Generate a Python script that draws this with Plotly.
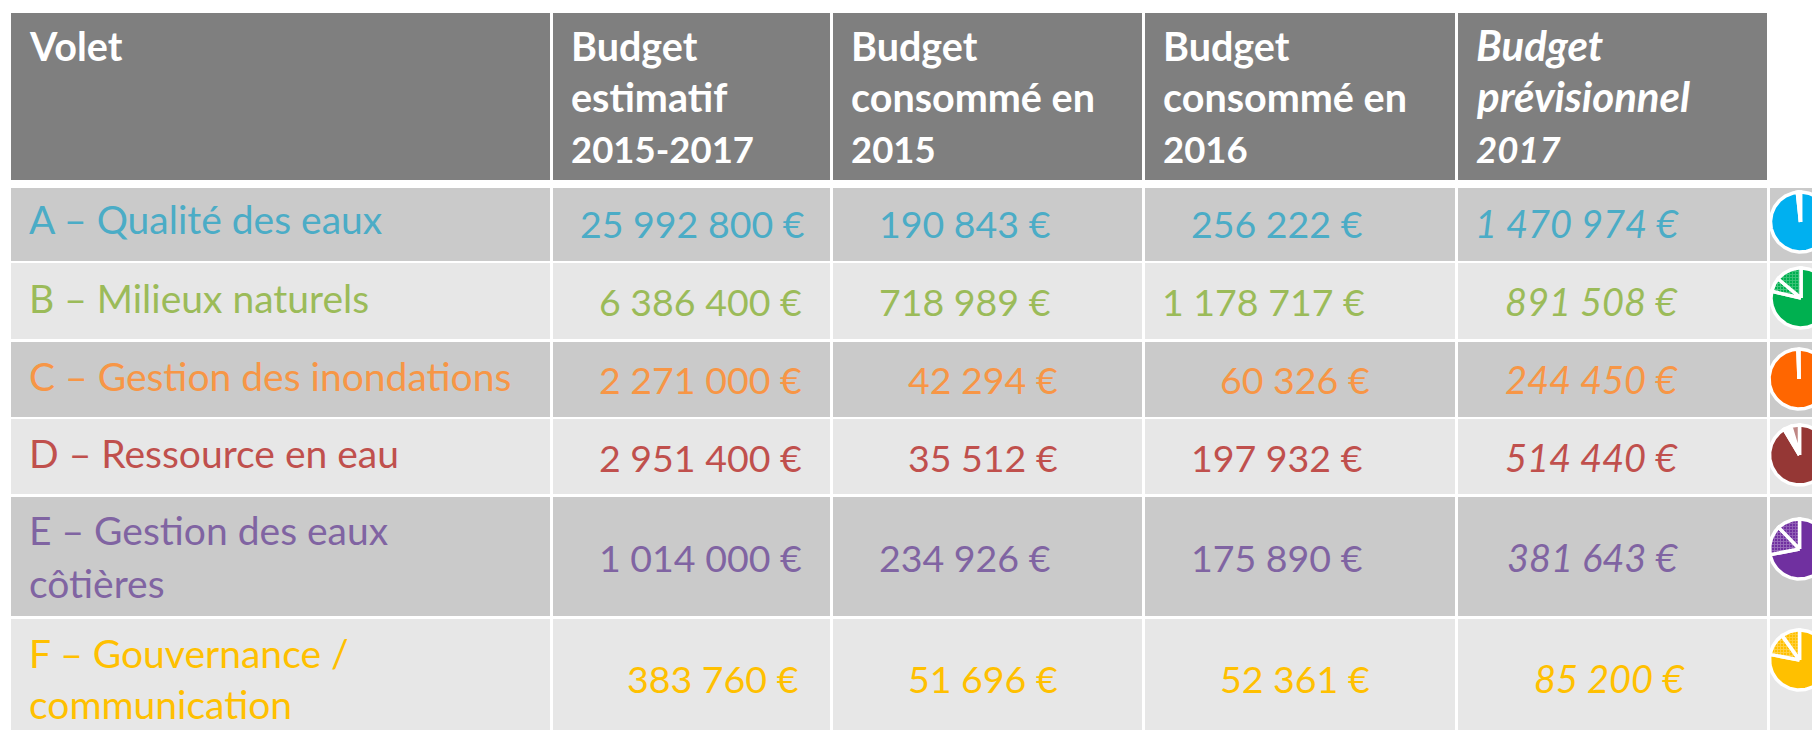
import numpy as np
import plotly.graph_objects as go

# ---------- data ----------
headers = [["Volet"],
           ["Budget", "estimatif", "2015-2017"],
           ["Budget", "consommé en", "2015"],
           ["Budget", "consommé en", "2016"],
           ["Budget", "prévisionnel", "2017"]]
volets = [["A – Qualité des eaux"],
          ["B – Milieux naturels"],
          ["C – Gestion des inondations"],
          ["D – Ressource en eau"],
          ["E – Gestion des eaux", "côtières"],
          ["F – Gouvernance /", "communication"]]
budget_estimatif = [25992800, 6386400, 2271000, 2951400, 1014000, 383760]
consomme_2015 = [190843, 718989, 42294, 35512, 234926, 51696]
consomme_2016 = [256222, 1178717, 60326, 197932, 175890, 52361]
previsionnel_2017 = [1470974, 891508, 244450, 514440, 381643, 85200]

# pie shares (%): slice nearest 12 o'clock, next slice, remainder
pie_slice_1 = [0.9, 13.9, 0.3, 4.7, 12.2, 10.0]
pie_slice_2 = [0.8, 7.5, 0.3, 3.9, 15.8, 12.0]
pie_rest = [98.3, 78.6, 99.4, 91.4, 72.0, 78.0]

# ---------- style / layout ----------
W, H = 1812, 730
text_colors = ["#4BACC6", "#9BBB59", "#F79646", "#C0504D", "#8064A2", "#FFC000"]
pie_colors = ["#00B0F0", "#00B050", "#FF6600", "#953735", "#7030A0", "#FFC000"]
FONT = "Lato"
SIZE_NUM = 37.5
SIZE_HEAD_NUM = 36.5
SIZE_HEAD = 39.5
SIZE_HEAD_IT = 42
SIZE_LABEL = 39
SIZE_IT = 38

col_edges = [(11, 550), (553, 830), (833, 1142), (1145, 1455), (1458, 1767), (1770, 1812)]
row_edges = [(188, 261), (263, 339), (342, 417), (419, 494), (497, 616), (619, 730)]
header_edges = (13, 180)
header_x = [29, 571, 851, 1163, 1476]
header_base = [60, 111, 162]
label_x = 29
label_base = [[233], [312], [390], [467], [544, 597], [667, 718]]
value_base = [237, 315, 393, 471, 571, 692]
value_right = [[805, 802, 802, 802, 802, 799],
               [1051, 1051, 1058, 1058, 1051, 1058],
               [1363, 1365, 1370, 1363, 1363, 1370],
               [1679, 1678, 1678, 1678, 1678, 1685]]
pie_cx = [1800.5, 1801, 1799, 1799.5, 1799.5, 1799.5]
pie_cy = [222, 298, 379, 455, 549, 660]
PIE_R = 30

fig = go.Figure()
shapes, notes = [], []


def rect(x0, x1, y0, y1, color):
    shapes.append(dict(type="rect", xref="x", yref="y", x0=x0, x1=x1, y0=y0, y1=y1,
                       fillcolor=color, line_width=0, layer="below"))


def text(x, base, s, color, size, anchor="left"):
    notes.append(dict(x=x, y=base - 0.36 * size, xref="x", yref="y", text=s, showarrow=False,
                      xanchor=anchor, yanchor="middle", align=anchor,
                      font=dict(family=FONT, size=size, color=color),
                      borderpad=0, borderwidth=0))


for x0, x1 in col_edges[:-1]:
    rect(x0, x1, *header_edges, "#7F7F7F")
for r, (y0, y1) in enumerate(row_edges):
    for x0, x1 in col_edges:
        rect(x0, x1, y0, y1, "#CACACA" if r % 2 == 0 else "#E7E7E7")

for c, lines in enumerate(headers):
    for i, line in enumerate(lines):
        numeric = line[0].isdigit()
        if c == 4:
            s, size = f"<b><i>{line}</i></b>", (SIZE_HEAD_NUM if numeric else SIZE_HEAD_IT)
        else:
            s, size = f"<b>{line}</b>", (SIZE_HEAD_NUM if numeric else SIZE_HEAD)
        text(header_x[c], header_base[i], s, "#FFFFFF", size)

columns = [budget_estimatif, consomme_2015, consomme_2016, previsionnel_2017]
for r, lines in enumerate(volets):
    for i, line in enumerate(lines):
        text(label_x, label_base[r][i], line, text_colors[r], SIZE_LABEL)
    for c, col in enumerate(columns):
        s = f"{col[r]:,}".replace(",", " ") + " €"
        if c == 3:
            text(value_right[c][r], value_base[r], f"<i>{s}</i>", text_colors[r], SIZE_IT, "right")
        else:
            text(value_right[c][r], value_base[r], s, text_colors[r], SIZE_NUM, "right")


def wedge(cx, cy, a0, a1):
    t = np.radians(np.linspace(a0, a1, max(3, int(abs(a1 - a0)) + 2)))
    xs = cx + PIE_R * np.sin(t)
    ys = cy - PIE_R * np.cos(t)
    return np.r_[cx, xs, cx], np.r_[cy, ys, cy]


def lighter(hex_color, k):
    rgb = [int(hex_color[i:i + 2], 16) for i in (1, 3, 5)]
    return "#%02X%02X%02X" % tuple(int(v + (255 - v) * k) for v in rgb)


WHITE_LINE = dict(color="#FFFFFF", width=3.5)
for r in range(6):
    cx, cy, col = pie_cx[r], pie_cy[r], pie_colors[r]
    s1, s2 = pie_slice_1[r] * 3.6, pie_slice_2[r] * 3.6
    x, y = wedge(cx, cy, 0, pie_rest[r] * 3.6)
    fig.add_trace(go.Scatter(x=x, y=y, mode="lines", fill="toself", fillcolor=col,
                             line=WHITE_LINE, hoverinfo="skip"))
    x, y = wedge(cx, cy, 360 - s1 - s2, 360 - s1)
    if r == 3:
        fig.add_trace(go.Scatter(x=x, y=y, mode="lines", fill="toself", fillcolor="#FFFFFF",
                                 line=WHITE_LINE, hoverinfo="skip"))
    else:
        fig.add_trace(go.Scatter(x=x, y=y, mode="lines", fill="toself", fillcolor=col,
                                 fillpattern=dict(shape="+", size=3, solidity=0.5,
                                                  bgcolor=col, fgcolor=lighter(col, 0.6)),
                                 line=WHITE_LINE, hoverinfo="skip"))
    x, y = wedge(cx, cy, 360 - s1, 360)
    if r == 3:
        fig.add_trace(go.Scatter(x=x, y=y, mode="lines", fill="toself",
                                 fillcolor=lighter(col, 0.4), line=WHITE_LINE, hoverinfo="skip"))
    else:
        fig.add_trace(go.Scatter(x=x, y=y, mode="lines", fill="toself", fillcolor=col,
                                 fillpattern=dict(shape="+", size=3, solidity=0.5,
                                                  bgcolor=col, fgcolor=lighter(col, 0.5)),
                                 line=WHITE_LINE, hoverinfo="skip"))

fig.update_layout(
    width=W, height=H, margin=dict(l=0, r=0, t=0, b=0),
    paper_bgcolor="#FFFFFF", plot_bgcolor="#FFFFFF", showlegend=False,
    xaxis=dict(range=[0, W], visible=False, fixedrange=True),
    yaxis=dict(range=[H, 0], visible=False, fixedrange=True),
    shapes=shapes, annotations=notes,
)
fig.write_html("out.html", config=dict(displayModeBar=False),
               post_script="document.body.style.margin='0';"
                           "document.documentElement.style.overflow='hidden';")
